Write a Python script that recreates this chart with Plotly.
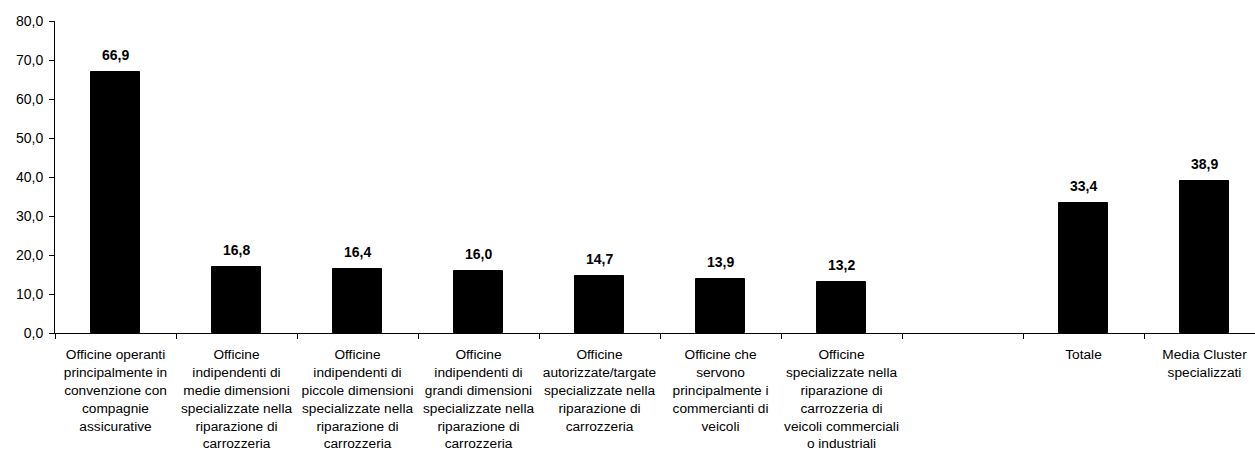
import plotly.graph_objects as go

categories = [
    "Officine operanti<br>principalmente in<br>convenzione con<br>compagnie<br>assicurative",
    "Officine<br>indipendenti di<br>medie dimensioni<br>specializzate nella<br>riparazione di<br>carrozzeria",
    "Officine<br>indipendenti di<br>piccole dimensioni<br>specializzate nella<br>riparazione di<br>carrozzeria",
    "Officine<br>indipendenti di<br>grandi dimensioni<br>specializzate nella<br>riparazione di<br>carrozzeria",
    "Officine<br>autorizzate/targate<br>specializzate nella<br>riparazione di<br>carrozzeria",
    "Officine che<br>servono<br>principalmente i<br>commercianti di<br>veicoli",
    "Officine<br>specializzate nella<br>riparazione di<br>carrozzeria di<br>veicoli commerciali<br>o industriali",
    " ",
    "Totale",
    "Media Cluster<br>specializzati",
]
values = [66.9, 16.8, 16.4, 16.0, 14.7, 13.9, 13.2, None, 33.4, 38.9]
value_labels = ["66,9", "16,8", "16,4", "16,0", "14,7", "13,9", "13,2", "", "33,4", "38,9"]

FONT = "Liberation Sans, Arial, sans-serif"

fig = go.Figure()
fig.add_trace(go.Bar(
    x=list(range(len(categories))),
    y=values,
    width=0.405,
    marker=dict(color="#000000", line=dict(color="#000000", width=1)),
    hoverinfo="skip",
))

for i, (v, lab) in enumerate(zip(values, value_labels)):
    if v is None:
        continue
    fig.add_annotation(
        x=i, y=v, text="<b>" + lab + "</b>", showarrow=False,
        yanchor="bottom", yshift=7,
        font=dict(family=FONT, size=14, color="#000000"),
    )

W, H = 1255, 459
ml, mt, mb = 55, 21, 126
plot_w = W - ml
cat_px = 121.0
x_max = -0.5 + plot_w / cat_px

fig.update_layout(
    width=W, height=H,
    margin=dict(l=ml, r=0, t=mt, b=mb, pad=0),
    plot_bgcolor="white", paper_bgcolor="white",
    separators=",.",
    showlegend=False,
    font=dict(family=FONT, size=14, color="#000000"),
    bargap=0,
)
fig.update_xaxes(
    automargin=False,
    range=[-0.5, x_max],
    tickmode="array",
    tickvals=[i for i in range(len(categories))],
    ticktext=categories,
    tickangle=0,
    showline=True, linecolor="#000000", linewidth=1,
    showgrid=False, zeroline=False,
    ticks="", ticklabelstandoff=9,
    tickfont=dict(family=FONT, size=13.7, color="#000000"),
    minor=dict(tickmode="array", tickvals=[i - 0.5 for i in range(len(categories) + 1)],
               ticks="outside", ticklen=5, tickcolor="#000000", tickwidth=1, showgrid=False),
)
fig.update_yaxes(
    automargin=False,
    range=[0, 80], dtick=10, tick0=0,
    tickformat=".1f",
    showline=True, linecolor="#000000", linewidth=1,
    showgrid=False, zeroline=False,
    ticks="outside", ticklen=5, tickcolor="#000000",
    ticklabelstandoff=3,
    tickfont=dict(family=FONT, size=14, color="#000000"),
)

fig.write_html(
    "out.html",
    config={"displayModeBar": False},
    post_script="document.body.style.margin='0px';document.body.style.overflow='hidden';",
)
